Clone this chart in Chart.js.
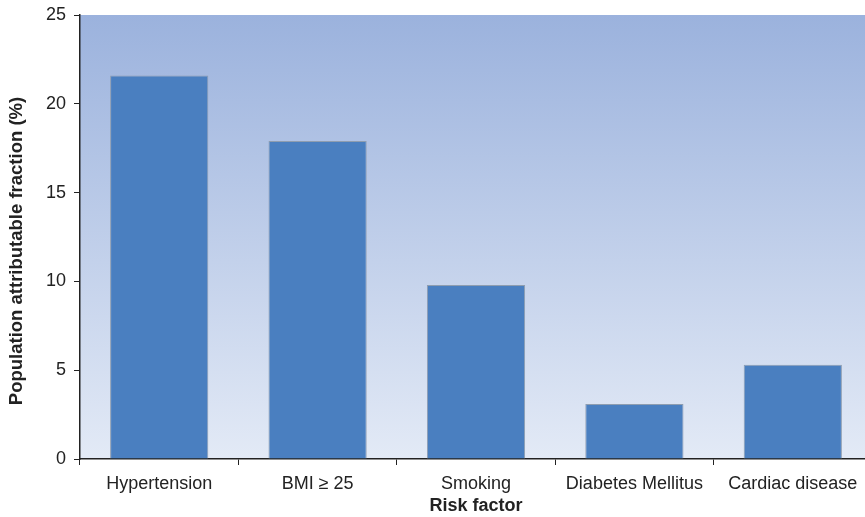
<!DOCTYPE html>
<html>
<head>
<meta charset="utf-8">
<script src="https://cdn.jsdelivr.net/npm/chart.js@4"></script>
<style>
  body { margin: 0; background: #fff; }
  /* the original plot runs a few pixels past the right edge of the image */
  #clip { width: 865px; height: 517px; overflow: hidden; }
  #wrap { width: 872px; height: 517px; }
</style>
</head>
<body>
<div id="clip"><div id="wrap"><canvas id="myChart"></canvas></div></div>
<script>
var riskFactors = ['Hypertension', 'BMI \u2265 25', 'Smoking', 'Diabetes Mellitus', 'Cardiac disease'];
var fractions = [21.6, 17.9, 9.8, 3.1, 5.3];
var yTicks = [0, 5, 10, 15, 20, 25];
var yTitle = 'Population attributable fraction (%)';

// gradient fill behind the plot area + y axis title (sits a bit below centre in the original)
var plotBackground = {
    id: 'plotBackground',
    beforeDraw: function(chart) {
        var a = chart.chartArea;
        var c = chart.ctx;
        var g = c.createLinearGradient(0, a.top, 0, a.bottom);
        g.addColorStop(0, '#9bb2dd');
        g.addColorStop(1, '#e3eaf6');
        c.save();
        c.fillStyle = g;
        c.fillRect(a.left, a.top, a.right - a.left, a.bottom - a.top);
        c.restore();
    },
    afterDraw: function(chart) {
        var c = chart.ctx;
        c.save();
        c.translate(17, 251);
        c.rotate(-Math.PI / 2);
        c.font = 'bold 18.5px "Liberation Sans"';
        c.fillStyle = '#222';
        c.textAlign = 'center';
        c.textBaseline = 'middle';
        c.fillText(yTitle, 0, 0);
        c.restore();
    }
};

var ctx = document.getElementById('myChart').getContext('2d');
var myChart = new Chart(ctx, {
    type: 'bar',
    data: {
        labels: riskFactors,
        datasets: [{
            label: 'Population attributable fraction',
            data: fractions,
            backgroundColor: '#4a7fc0',
            borderColor: '#8e9db0',
            borderWidth: 1,
            categoryPercentage: 1,
            barPercentage: 0.62
        }]
    },
    options: {
        responsive: true,
        maintainAspectRatio: false,
        animation: false,
        layout: { padding: { top: 15, right: 0, left: 0, bottom: 0 } },
        scales: {
            x: {
                offset: true,
                grid: {
                    offset: true,
                    drawOnChartArea: false,
                    drawTicks: true,
                    tickLength: 6,
                    color: '#222'
                },
                border: { color: '#222', width: 1.5 },
                ticks: { color: '#222', font: { family: 'Liberation Sans', size: 18 }, padding: 8, maxRotation: 0 },
                title: {
                    display: true,
                    text: 'Risk factor',
                    color: '#222',
                    font: { family: 'Liberation Sans', size: 18, weight: 'bold' },
                    padding: { top: 2, bottom: 0 }
                },
                afterFit: function(s) { s.height = 58; s.paddingLeft = 0; s.paddingRight = 0; }
            },
            y: {
                min: 0,
                max: 25,
                afterBuildTicks: function(s) { s.ticks = yTicks.map(function(v) { return { value: v }; }); },
                grid: {
                    drawOnChartArea: false,
                    drawTicks: true,
                    tickLength: 6,
                    color: '#222'
                },
                border: { color: '#222', width: 1.5 },
                ticks: { color: '#222', font: { family: 'Liberation Sans', size: 18 }, padding: 8 },
                afterFit: function(s) { s.width = 80; s.paddingTop = 0; s.paddingBottom = 0; }
            }
        },
        plugins: {
            legend: { display: false },
            tooltip: { enabled: false }
        }
    },
    plugins: [plotBackground]
});
</script>
</body>
</html>
